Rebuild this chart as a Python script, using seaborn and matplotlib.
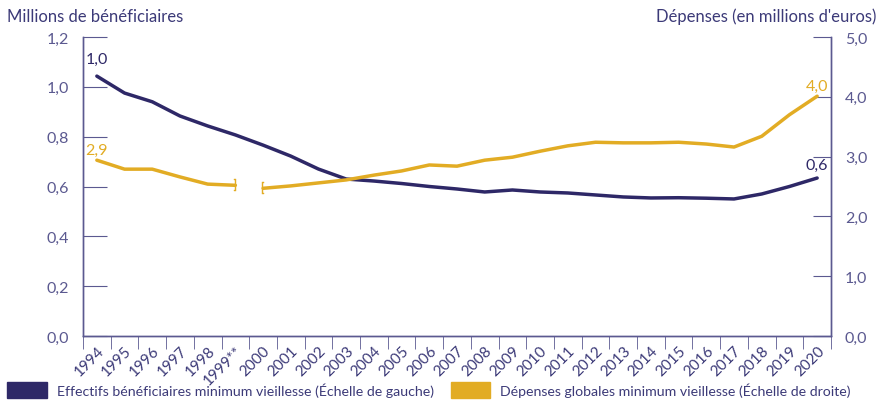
import matplotlib
matplotlib.use("Agg")
import matplotlib.pyplot as plt
import matplotlib.patches as mpatches
import seaborn as sns
import numpy as np
import pandas as pd

# data
years = ["1994", "1995", "1996", "1997", "1998", "1999**", "2000", "2001", "2002",
         "2003", "2004", "2005", "2006", "2007", "2008", "2009", "2010", "2011",
         "2012", "2013", "2014", "2015", "2016", "2017", "2018", "2019", "2020"]
beneficiaires = [1.043, 0.975, 0.94, 0.883, 0.843, 0.807, 0.766, 0.722, 0.67,
                 0.63, 0.622, 0.612, 0.60, 0.59, 0.578, 0.586, 0.578, 0.574,
                 0.566, 0.558, 0.554, 0.555, 0.553, 0.55, 0.57, 0.60, 0.634]
depenses = [2.94, 2.79, 2.79, 2.66, 2.54, 2.52, 2.47, 2.51, 2.56,
            2.61, 2.69, 2.76, 2.86, 2.84, 2.94, 2.99, 3.09, 3.18,
            3.24, 3.23, 3.23, 3.24, 3.21, 3.16, 3.34, 3.70, 4.01]

NAVY = "#2e2867"
GOLD = "#e2ac24"
TXT = "#3c3a78"
AXC = "#5b5990"

sns.set_style("white")
plt.rcParams["font.family"] = ["Lato", "DejaVu Sans"]

df = pd.DataFrame({"x": np.arange(len(years)), "benef": beneficiaires, "dep": depenses})

fig = plt.figure(figsize=(8.83, 4.06), dpi=100)
ax = fig.add_axes([83 / 883, 69 / 406, 748 / 883, 299 / 406])
ax2 = ax.twinx()

sns.lineplot(data=df, x="x", y="benef", ax=ax, color=NAVY, linewidth=2.5)
# spending series is broken between 1999 and 2000
seg1 = df.iloc[:6]
seg2 = df.iloc[6:]
sns.lineplot(data=seg1, x="x", y="dep", ax=ax2, color=GOLD, linewidth=2.5)
sns.lineplot(data=seg2, x="x", y="dep", ax=ax2, color=GOLD, linewidth=2.5)
ax2.plot(seg1["x"].iloc[-1], seg1["dep"].iloc[-1], marker="$]$", color=GOLD, markersize=9, mew=0.3)
ax2.plot(seg2["x"].iloc[0], seg2["dep"].iloc[0], marker="$[$", color=GOLD, markersize=9, mew=0.3)

n = len(years)
for a in (ax, ax2):
    a.set_xlim(-0.5, n - 0.5)
    a.set_xlabel("")
    a.set_ylabel("")
    a.spines["top"].set_visible(False)
    for s in ("left", "right", "bottom"):
        a.spines[s].set_color(AXC)
        a.spines[s].set_linewidth(1.0)

ax.set_ylim(0, 1.2)
ax2.set_ylim(0, 5.0)
ax.set_yticks(np.arange(0, 1.21, 0.2))
ax.set_yticklabels([f"{v:.1f}".replace(".", ",") for v in np.arange(0, 1.21, 0.2)])
ax2.set_yticks(np.arange(0, 5.01, 1.0))
ax2.set_yticklabels([f"{v:.1f}".replace(".", ",") for v in np.arange(0, 5.01, 1.0)])

ax.tick_params(axis="y", direction="in", length=17, color=AXC, labelcolor=AXC,
               labelsize=11.5, pad=10, left=True)
ax2.tick_params(axis="y", direction="in", length=13, color=AXC, labelcolor=AXC,
                labelsize=11.5, pad=10, right=True)

ax.set_xticks(np.arange(n))
ax.set_xticklabels(years, rotation=45, ha="right", rotation_mode="anchor")
ax.set_xticks(np.arange(-0.5, n, 1.0), minor=True)
ax.tick_params(axis="x", which="major", length=0, labelcolor=TXT, labelsize=11, pad=5)
ax.tick_params(axis="x", which="minor", direction="out", length=9, color=AXC, bottom=True)
ax2.tick_params(axis="x", which="both", bottom=False, labelbottom=False)

# value labels
ax.text(0, beneficiaires[0] + 0.04, "1,0", color=NAVY, fontsize=11.5, ha="center", va="bottom")
ax.text(n - 1, beneficiaires[-1] + 0.025, "0,6", color=NAVY, fontsize=11.5, ha="center", va="bottom")
ax2.text(0, depenses[0] + 0.06, "2,9", color=GOLD, fontsize=11.5, ha="center", va="bottom")
ax2.text(n - 1, depenses[-1] + 0.06, "4,0", color=GOLD, fontsize=11.5, ha="center", va="bottom")

fig.text(7 / 883, 1 - 17 / 406, "Millions de bénéficiaires", color=TXT, fontsize=12, va="center")
fig.text(876 / 883, 1 - 17 / 406, "Dépenses (en millions d'euros)", color=TXT, fontsize=12,
         va="center", ha="right")

h1 = mpatches.Patch(color=NAVY, label="Effectifs bénéficiaires minimum vieillesse (Échelle de gauche)")
h2 = mpatches.Patch(color=GOLD, label="Dépenses globales minimum vieillesse (Échelle de droite)")
fig.legend(handles=[h1, h2], ncol=2, loc="lower left", bbox_to_anchor=(0, 0.0),
           frameon=False, handlelength=2.8, handleheight=1.3, handletextpad=0.7,
           columnspacing=1.2, fontsize=10.2, labelcolor=TXT, borderaxespad=0.3,
           borderpad=0.2)

fig.savefig("out.png", dpi=100)
